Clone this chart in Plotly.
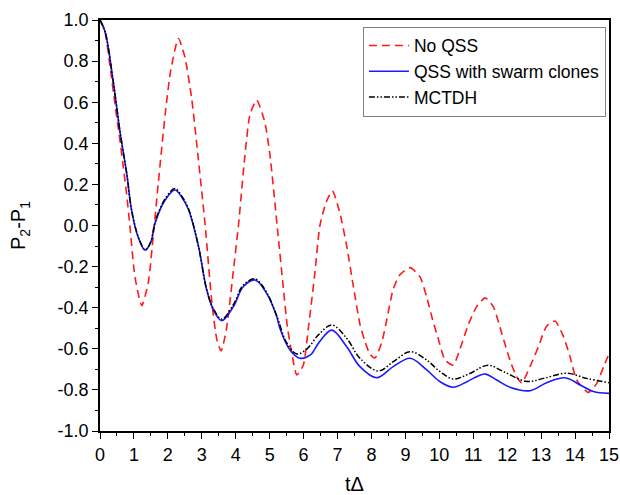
import plotly.graph_objects as go

# No QSS (classical propagation without quantum superposition sampling)
t_noqss = [0, 0.15, 0.3, 0.45, 0.6, 0.69, 0.78, 0.88, 1.03, 1.23, 1.42, 1.57, 1.72,
           1.92, 2.08, 2.31, 2.5, 2.7, 2.9, 3.1, 3.3, 3.45, 3.57, 3.73, 3.93, 4.08,
           4.27, 4.42, 4.62, 4.86, 5.01, 5.25, 5.4, 5.52, 5.65, 5.8, 5.99, 6.14,
           6.34, 6.48, 6.68, 6.85, 7.07, 7.27, 7.47, 7.66, 7.8, 7.95, 8.1, 8.3,
           8.45, 8.64, 8.84, 9.14, 9.43, 9.63, 9.82, 9.95, 10.17, 10.41, 10.61,
           10.86, 11.1, 11.35, 11.59, 11.84, 12.08, 12.28, 12.43, 12.67, 12.92,
           13.16, 13.41, 13.66, 13.85, 14.05, 14.39, 14.64, 14.84, 15.0]
p_noqss = [1.0, 0.94, 0.77, 0.58, 0.40, 0.28, 0.16, 0.0, -0.25, -0.39, -0.28, -0.05,
           0.21, 0.54, 0.75, 0.91, 0.82, 0.62, 0.32, 0.0, -0.38, -0.56, -0.61,
           -0.50, -0.22, 0.0, 0.34, 0.54, 0.61, 0.50, 0.34, -0.05, -0.30, -0.49,
           -0.62, -0.727, -0.68, -0.50, -0.22, 0.0, 0.12, 0.168, 0.06, -0.10,
           -0.30, -0.48, -0.56, -0.625, -0.645, -0.57, -0.46, -0.31, -0.24,
           -0.205, -0.25, -0.35, -0.47, -0.54, -0.655, -0.679, -0.60, -0.48,
           -0.395, -0.352, -0.395, -0.525, -0.655, -0.736, -0.765, -0.687,
           -0.59, -0.49, -0.465, -0.541, -0.638, -0.752, -0.812, -0.768, -0.687,
           -0.625]

# QSS with swarm clones
t_qss = [0, 0.15, 0.39, 0.59, 0.79, 0.93, 1.13, 1.33, 1.5, 1.62, 1.92, 2.21, 2.4,
         2.6, 2.9, 3.14, 3.34, 3.59, 3.93, 4.22, 4.57, 4.91, 5.21, 5.3, 5.6, 5.89,
         6.2, 6.45, 6.83, 7.27, 7.66, 8.15, 8.64, 9.14, 9.63, 10.02, 10.41, 10.81,
         11.0, 11.35, 11.69, 12.08, 12.67, 13.16, 13.7, 14.15, 14.54, 15.0]
p_qss = [1.0, 0.943, 0.70, 0.456, 0.25, 0.075, -0.06, -0.12, -0.08, 0.01, 0.124,
         0.173, 0.14, 0.08, -0.10, -0.31, -0.41, -0.463, -0.395, -0.298, -0.265,
         -0.33, -0.444, -0.50, -0.606, -0.646, -0.63, -0.57, -0.509, -0.59,
         -0.687, -0.741, -0.687, -0.646, -0.703, -0.76, -0.787, -0.76, -0.744,
         -0.723, -0.752, -0.787, -0.804, -0.765, -0.741, -0.776, -0.808, -0.817]

# MCTDH reference
t_mctdh = [0, 0.15, 0.39, 0.59, 0.79, 0.93, 1.13, 1.33, 1.5, 1.62, 1.92, 2.21, 2.4,
           2.6, 2.9, 3.14, 3.34, 3.59, 3.93, 4.22, 4.57, 4.91, 5.21, 5.5, 5.8,
           6.1, 6.45, 6.83, 7.27, 7.66, 8.2, 8.64, 9.14, 9.63, 10.02, 10.41,
           10.86, 11.44, 11.89, 12.58, 13.07, 13.75, 14.34, 15.0]
p_mctdh = [1.0, 0.943, 0.70, 0.456, 0.25, 0.075, -0.055, -0.118, -0.078, 0.015,
           0.13, 0.18, 0.145, 0.085, -0.10, -0.31, -0.405, -0.455, -0.385, -0.29,
           -0.26, -0.325, -0.44, -0.57, -0.625, -0.60, -0.53, -0.484, -0.549,
           -0.646, -0.708, -0.663, -0.614, -0.655, -0.711, -0.747, -0.723, -0.68,
           -0.711, -0.759, -0.744, -0.719, -0.744, -0.765]

# Axis tick positions and labels (plain hyphen for negatives)
x_ticks = list(range(0, 16))
x_ticklabels = [str(v) for v in x_ticks]
y_ticks = [-1.0, -0.8, -0.6, -0.4, -0.2, 0.0, 0.2, 0.4, 0.6, 0.8, 1.0]
y_ticklabels = ["-1.0", "-0.8", "-0.6", "-0.4", "-0.2", "0.0", "0.2", "0.4", "0.6", "0.8", "1.0"]

FONT = "Liberation Sans, Arial, sans-serif"

fig = go.Figure()
fig.add_trace(go.Scatter(
    x=t_noqss, y=p_noqss, mode="lines", name="No QSS",
    line=dict(color="#ff1a1a", width=1.6, dash="8px,5px", shape="spline", smoothing=0.6),
))
fig.add_trace(go.Scatter(
    x=t_qss, y=p_qss, mode="lines", name="QSS with swarm clones",
    line=dict(color="#1a1aff", width=1.6, shape="spline", smoothing=1.0),
))
fig.add_trace(go.Scatter(
    x=t_mctdh, y=p_mctdh, mode="lines", name="MCTDH",
    line=dict(color="black", width=1.5, dash="6px,2px,1.5px,2px,1.5px,2px",
              shape="spline", smoothing=1.0),
))

axis_common = dict(
    showgrid=False, zeroline=False, automargin=False,
    showline=True, linecolor="black", linewidth=1.8, mirror=True,
    ticks="outside", ticklen=6, tickwidth=1.3, tickcolor="black",
    tickfont=dict(family=FONT, size=18, color="black"),
)

fig.update_xaxes(
    range=[0, 15], tickmode="array", tickvals=x_ticks, ticktext=x_ticklabels,
    minor=dict(tickmode="linear", tick0=0, dtick=0.5, ticks="outside", ticklen=3,
               tickwidth=1.2, tickcolor="black"),
    title=dict(text="tΔ", font=dict(family=FONT, size=20, color="black"), standoff=18),
    **axis_common,
)
fig.update_yaxes(
    range=[-1.0, 1.0], tickmode="array", tickvals=y_ticks, ticktext=y_ticklabels,
    minor=dict(tickmode="linear", tick0=-1.0, dtick=0.1, ticks="outside", ticklen=3,
               tickwidth=1.2, tickcolor="black"),
    title=dict(text="P<sub>2</sub>-P<sub>1</sub>", font=dict(family=FONT, size=20, color="black"),
               standoff=26),
    **axis_common,
)

fig.update_layout(
    width=620, height=495,
    margin=dict(l=100, r=11, t=20, b=64),
    paper_bgcolor="white", plot_bgcolor="white",
    showlegend=True,
    legend=dict(
        x=0.994, y=0.984, xanchor="right", yanchor="top",
        bgcolor="white", bordercolor="#808080", borderwidth=1,
        font=dict(family=FONT, size=17.5, color="black"),
        itemwidth=40, tracegroupgap=0,
    ),
)

fig.write_html("out.html")
